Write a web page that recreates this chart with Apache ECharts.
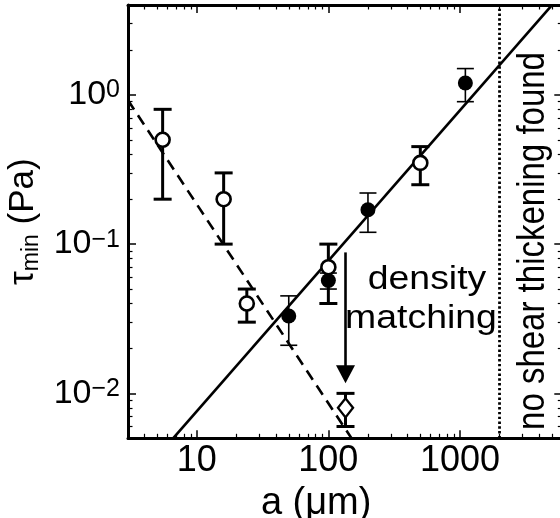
<!DOCTYPE html>
<html>
<head>
<meta charset="utf-8">
<script src="https://cdn.jsdelivr.net/npm/echarts@6/dist/echarts.min.js"></script>
<style>html,body{margin:0;padding:0;background:#fff;}#c{width:560px;height:518px;}</style>
</head>
<body>
<div id="c"></div>
<script>
// ---- data ----
const xRange = [3, 6000];
const yRange = [0.005, 4];
const xMajor = [10, 100, 1000];
const xMinor = [4,5,6,7,8,9,20,30,40,50,60,70,80,90,200,300,400,500,600,700,800,900,2000,3000,4000,5000];
const yMajor = [0.01, 0.1, 1];
const yMinor = [0.006,0.007,0.008,0.009,0.02,0.03,0.04,0.05,0.06,0.07,0.08,0.09,0.2,0.3,0.4,0.5,0.6,0.7,0.8,0.9,2,3];

const openX = [5.5, 16, 24, 100, 500];
const openY = [0.5, 0.2, 0.04, 0.07, 0.35];
const openErr = [0.3, 0.1, 0.01, 0.03, 0.1];

const filledX = [50, 100, 200, 1100];
const filledY = [0.033, 0.057, 0.17, 1.2];
const filledErr = [0.012, 0.007, 0.05, 0.3];

const diamondX = [135];
const diamondY = [0.008];
const diamondErr = [0.002];

const solidFitX = [6.6, 4950];
const solidFitY = [0.005, 3.95];
const dashedFitX = [3, 150];
const dashedFitY = [0.92, 0.005];
const limitX = [2000, 2000];
const limitY = [0.005, 4];
const arrowX = [135];
const arrowFrom = [0.088];
const arrowTo = [0.0117];

// ---- build ----
const FONT = '"Liberation Sans", Arial, Helvetica, sans-serif';
const zip = (xs, ys) => xs.map((x, i) => [x, ys[i]]);
const errData = (xs, ys, es) => xs.map((x, i) => [x, ys[i] - es[i], ys[i] + es[i]]);

function errRender(lw, cap) {
  return function (params, api) {
    const a = api.coord([api.value(0), api.value(1)]);
    const b = api.coord([api.value(0), api.value(2)]);
    const st = { stroke: '#000', lineWidth: lw };
    return { type: 'group', children: [
      { type: 'line', shape: { x1: a[0], y1: a[1], x2: b[0], y2: b[1] }, style: st },
      { type: 'line', shape: { x1: a[0] - cap, y1: a[1], x2: a[0] + cap, y2: a[1] }, style: st },
      { type: 'line', shape: { x1: b[0] - cap, y1: b[1], x2: b[0] + cap, y2: b[1] }, style: st }
    ]};
  };
}

function supLabel(v) {
  const e = Math.round(Math.log10(v));
  return '{b|10}{s|' + (e < 0 ? '\u2212' + (-e) : String(e)) + '}';
}

const baseAxis = (extra) => Object.assign({
  type: 'log', logBase: 10, splitLine: { show: false },
  axisLine: { show: true, lineStyle: { color: '#000', width: 3 } },
  axisLabel: { show: false }
}, extra);

const majorTick = (vals) => ({ show: true, inside: true, length: 8, lineStyle: { color: '#000', width: 1.5 }, customValues: vals });
const minorTick = (vals) => ({ show: true, inside: true, length: 4.5, lineStyle: { color: '#000', width: 1.2 }, customValues: vals });

const xAxes = [
  baseAxis({ position: 'bottom', min: xRange[0], max: xRange[1], axisTick: majorTick(xMajor),
    axisLabel: { show: true, customValues: xMajor, margin: 5, color: '#000', fontFamily: FONT, fontSize: 36,
      formatter: v => String(Math.round(v)) },
    name: 'a (\u03bcm)', nameLocation: 'middle', nameGap: 39,
    nameTextStyle: { color: '#000', fontFamily: FONT, fontSize: 38, padding: [0, 58, 0, 0] } }),
  baseAxis({ position: 'bottom', min: xRange[0], max: xRange[1], axisLine: { show: false }, axisTick: minorTick(xMinor) }),
  baseAxis({ position: 'top', min: xRange[0], max: xRange[1], axisTick: majorTick(xMajor) }),
  baseAxis({ position: 'top', min: xRange[0], max: xRange[1], axisLine: { show: false }, axisTick: minorTick(xMinor) })
];

const yAxes = [
  baseAxis({ position: 'left', min: yRange[0], max: yRange[1], axisTick: majorTick(yMajor),
    axisLabel: { show: true, customValues: yMajor, margin: 8, formatter: supLabel,
      rich: {
        b: { color: '#000', fontFamily: FONT, fontSize: 34, lineHeight: 34, verticalAlign: 'top' },
        s: { color: '#000', fontFamily: FONT, fontSize: 25, lineHeight: 25, verticalAlign: 'top' }
      } },
    name: '{t|\u03c4}{m|min}{t| (Pa)}', nameLocation: 'middle', nameRotate: 90, nameGap: 71,
    nameTextStyle: { rich: {
      t: { color: '#000', fontFamily: FONT, fontSize: 35, lineHeight: 38 },
      m: { color: '#000', fontFamily: FONT, fontSize: 23, lineHeight: 38, verticalAlign: 'bottom' }
    } } }),
  baseAxis({ position: 'left', min: yRange[0], max: yRange[1], axisLine: { show: false }, axisTick: minorTick(yMinor) }),
  baseAxis({ position: 'right', min: yRange[0], max: yRange[1], axisTick: majorTick(yMajor) }),
  baseAxis({ position: 'right', min: yRange[0], max: yRange[1], axisLine: { show: false }, axisTick: minorTick(yMinor) })
];

const option = {
  animation: false,
  backgroundColor: '#fff',
  grid: { left: 128, top: 5, right: -2.3, bottom: 79.7, containLabel: false, outerBoundsMode: 'none' },
  xAxis: xAxes,
  yAxis: yAxes,
  series: [
    { type: 'line', data: zip(solidFitX, solidFitY), symbol: 'none', z: 2,
      lineStyle: { color: '#000', width: 2.6 } },
    { type: 'line', data: zip(dashedFitX, dashedFitY), symbol: 'none', z: 2,
      lineStyle: { color: '#000', width: 2.6, type: [11, 7] } },
    { type: 'line', data: zip(limitX, limitY), symbol: 'none', z: 2,
      lineStyle: { color: '#000', width: 2.8, type: [2.4, 2.4] } },
    { type: 'custom', data: errData(openX, openY, openErr), renderItem: errRender(3, 9), z: 3, encode: { x: 0, y: [1, 2] } },
    { type: 'custom', data: errData(filledX, filledY, filledErr), renderItem: errRender(1.6, 8.5), z: 3, encode: { x: 0, y: [1, 2] } },
    { type: 'custom', data: errData(diamondX, diamondY, diamondErr), renderItem: errRender(3, 9), z: 3, encode: { x: 0, y: [1, 2] } },
    { type: 'scatter', data: zip(filledX, filledY), symbol: 'circle', symbolSize: 15, z: 4,
      itemStyle: { color: '#000', borderWidth: 0, opacity: 1 } },
    { type: 'scatter', data: zip(openX, openY), symbol: 'circle', symbolSize: 14, z: 5,
      itemStyle: { color: '#fff', borderColor: '#000', borderWidth: 2.6, opacity: 1 } },
    { type: 'scatter', data: zip(diamondX, diamondY), symbol: 'diamond', symbolSize: [15, 19], z: 5,
      itemStyle: { color: '#fff', borderColor: '#000', borderWidth: 2.4, opacity: 1 } },
    { type: 'custom', z: 3, data: arrowX.map((x, i) => [x, arrowFrom[i], arrowTo[i]]), encode: { x: 0, y: [1, 2] },
      renderItem: function (params, api) {
        const s = api.coord([api.value(0), api.value(1)]);
        const e = api.coord([api.value(0), api.value(2)]);
        const hh = 18, hw = 9.5;
        return { type: 'group', children: [
          { type: 'line', shape: { x1: s[0], y1: s[1], x2: e[0], y2: e[1] - hh + 2 }, style: { stroke: '#000', lineWidth: 2.6 } },
          { type: 'polygon', shape: { points: [[e[0] - hw, e[1] - hh], [e[0] + hw, e[1] - hh], [e[0], e[1]]] }, style: { fill: '#000' } }
        ]};
      } }
  ],
  graphic: [
    { type: 'text', x: 427, y: 280, scaleX: 1.1, style: { text: 'density', font: '34px ' + FONT, fill: '#000', align: 'center', verticalAlign: 'middle' } },
    { type: 'text', x: 421, y: 319, scaleX: 1.1, style: { text: 'matching', font: '34px ' + FONT, fill: '#000', align: 'center', verticalAlign: 'middle' } },
    { type: 'text', x: 533, y: 241, rotation: Math.PI / 2, scaleY: 1.18, style: { text: 'no shear thickening found', font: '33px ' + FONT, fill: '#000', align: 'center', verticalAlign: 'middle' } }
  ]
};

const chart = echarts.init(document.getElementById('c'), null, { renderer: 'canvas' });
chart.setOption(option);
</script>
</body>
</html>
